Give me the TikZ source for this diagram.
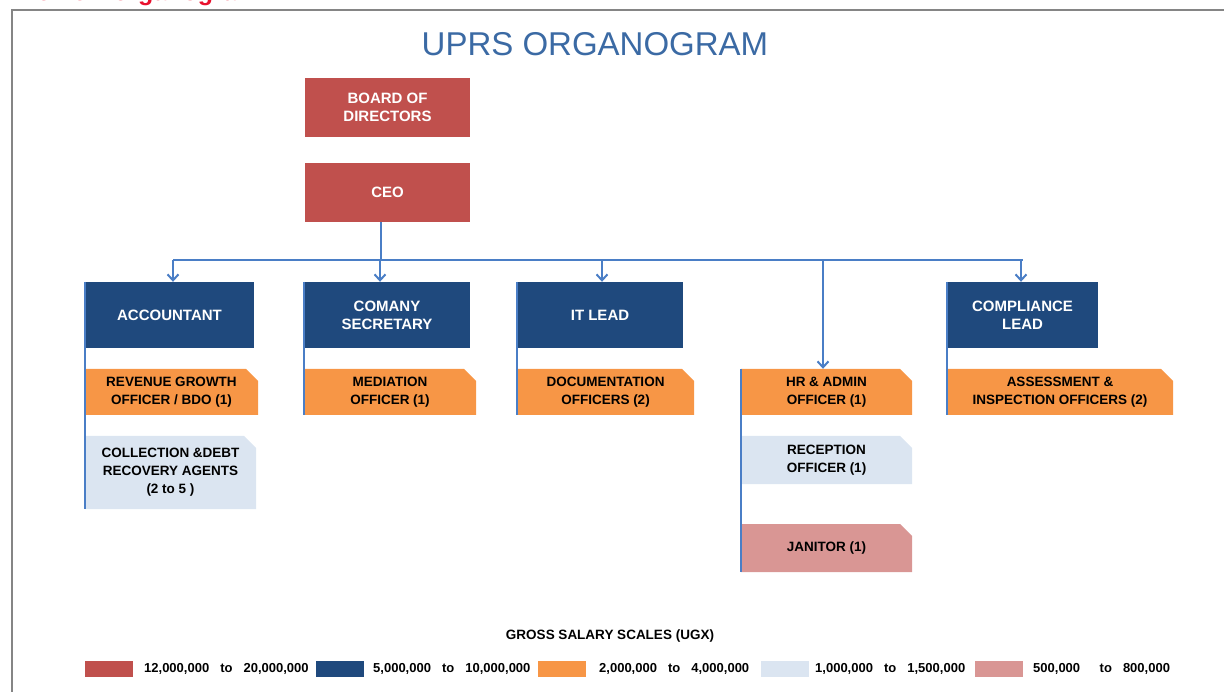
\documentclass[tikz,border=0pt]{standalone}
\usepackage{fontspec}
\setmainfont{Liberation Sans}
\usetikzlibrary{arrows.meta,shapes.misc}

\definecolor{boardred}{HTML}{C0504D}
\definecolor{leadblue}{HTML}{1F497D}
\definecolor{unitorange}{HTML}{F79646}
\definecolor{staffblue}{HTML}{DBE5F1}
\definecolor{helppink}{HTML}{D99694}
\definecolor{linkblue}{HTML}{4A7EC6}
\definecolor{titleblue}{HTML}{3B6AA4}
\definecolor{headred}{HTML}{E8112D}
\definecolor{framegray}{HTML}{858585}

\begin{document}
\begin{tikzpicture}
  [x=1pt,y=-1pt,
   every node/.style={inner sep=0pt,align=center},
   topbox/.style={fill=boardred,text=white,minimum width=165pt,minimum height=59pt,
     font=\fontsize{15}{18}\selectfont\bfseries},
   leadbox/.style={fill=leadblue,text=white,minimum height=66pt,
     font=\fontsize{15}{18}\selectfont\bfseries},
   unitbox/.style={chamfered rectangle,chamfered rectangle corners=north east,
     chamfered rectangle xsep=6pt,chamfered rectangle ysep=6pt,
     font=\fontsize{13.5}{18}\selectfont\bfseries},
   link/.style={draw=linkblue,line width=2pt},
   swatch/.style={minimum width=48pt,minimum height=16pt},
   paytext/.style={anchor=west,font=\fontsize{13}{16}\selectfont\bfseries}]
\useasboundingbox (0,0) rectangle (1224,692);
\node[anchor=base west,text=headred,font=\fontsize{25}{30}\selectfont\bfseries] (heading) at (6,1) {The new organogram};
\draw[framegray,line width=2pt] (11.5,720) -- (11.5,10.5) -- (1240,10.5);
\node[text=titleblue,font=\fontsize{33}{36}\selectfont] (title) at (595,44) {UPRS ORGANOGRAM};

\node[topbox] (board) at (387.5,107.5) {BOARD OF\\DIRECTORS};
\node[topbox] (ceo) at (387.5,192.5) {CEO};

\node[leadbox,minimum width=169pt] (acc) at (169.5,315) {ACCOUNTANT};
\node[leadbox,minimum width=166pt] (sec) at (387,315) {COMANY\\SECRETARY};
\node[leadbox,minimum width=166pt] (it) at (600,315) {IT LEAD};
\node[leadbox,minimum width=151pt] (comp) at (1022.5,315) {COMPLIANCE\\LEAD};

\node[unitbox,fill=unitorange,minimum width=173pt,minimum height=46pt] (rev) at (171.5,392) {REVENUE GROWTH\\OFFICER / BDO (1)};
\node[unitbox,fill=unitorange,minimum width=172pt,minimum height=46pt] (med) at (390,392) {MEDIATION\\OFFICER (1)};
\node[unitbox,fill=unitorange,minimum width=177pt,minimum height=46pt] (doc) at (605.5,392) {DOCUMENTATION\\OFFICERS (2)};
\node[unitbox,fill=unitorange,minimum width=171pt,minimum height=46pt] (hr) at (826.5,392) {HR \& ADMIN\\OFFICER (1)};
\node[unitbox,fill=unitorange,minimum width=226pt,minimum height=46pt] (ass) at (1060,392) {ASSESSMENT \&\\INSPECTION OFFICERS (2)};
\node[unitbox,fill=staffblue,minimum width=171pt,minimum height=73pt] (coll) at (170.5,472.5) {COLLECTION \&DEBT\\RECOVERY AGENTS\\(2 to 5 )};
\node[unitbox,fill=staffblue,minimum width=171pt,minimum height=48pt] (rec) at (826.5,460) {RECEPTION\\OFFICER (1)};
\node[unitbox,fill=helppink,minimum width=171pt,minimum height=48pt] (jan) at (826.5,548) {JANITOR (1)};

\coordinate (bus) at (0,260);
\draw[link] ([xshift=-7pt]ceo.south) -- ([xshift=-7pt]ceo.south |- bus);
\draw[link] ([xshift=3.5pt]acc.north |- bus) -- (comp.north |- bus);
\foreach \n/\dx in {acc/3.5,sec/-7,it/2,hr/-3.5,comp/-1.5}
  \draw[link,-{Straight Barb[length=6pt,width=11pt]}] ([xshift=\dx pt]\n.north |- bus) -- ([xshift=\dx pt]\n.north);
\foreach \from/\to in {acc/coll,sec/med,it/doc,comp/ass,hr/jan}
  \draw[link] (\from.north -| \from.west) -- (\to.south -| \from.west);

% salary legend
\node[font=\fontsize{13.5}{16}\selectfont\bfseries] (legend) at (610,636) {GROSS SALARY SCALES (UGX)};
\node[swatch,fill=boardred] (s1) at (109,669) {};
\node[swatch,fill=leadblue] (s2) at (339.5,669) {};
\node[swatch,fill=unitorange] (s3) at (561.5,669) {};
\node[swatch,fill=staffblue] (s4) at (784.5,669) {};
\node[swatch,fill=helppink] (s5) at (998.5,669) {};
\node[paytext] (r1) at (144,669) {12,000,000\hspace{0.85em}to\hspace{0.85em}20,000,000};
\node[paytext] (r2) at (373,669) {5,000,000\hspace{0.85em}to\hspace{0.85em}10,000,000};
\node[paytext] (r3) at (599,669) {2,000,000\hspace{0.85em}to\hspace{0.85em}4,000,000};
\node[paytext] (r4) at (815,669) {1,000,000\hspace{0.85em}to\hspace{0.85em}1,500,000};
\node[paytext] (r5) at (1033,669) {500,000\hspace{1.5em}to\hspace{0.85em}800,000};
\end{tikzpicture}
\end{document}
